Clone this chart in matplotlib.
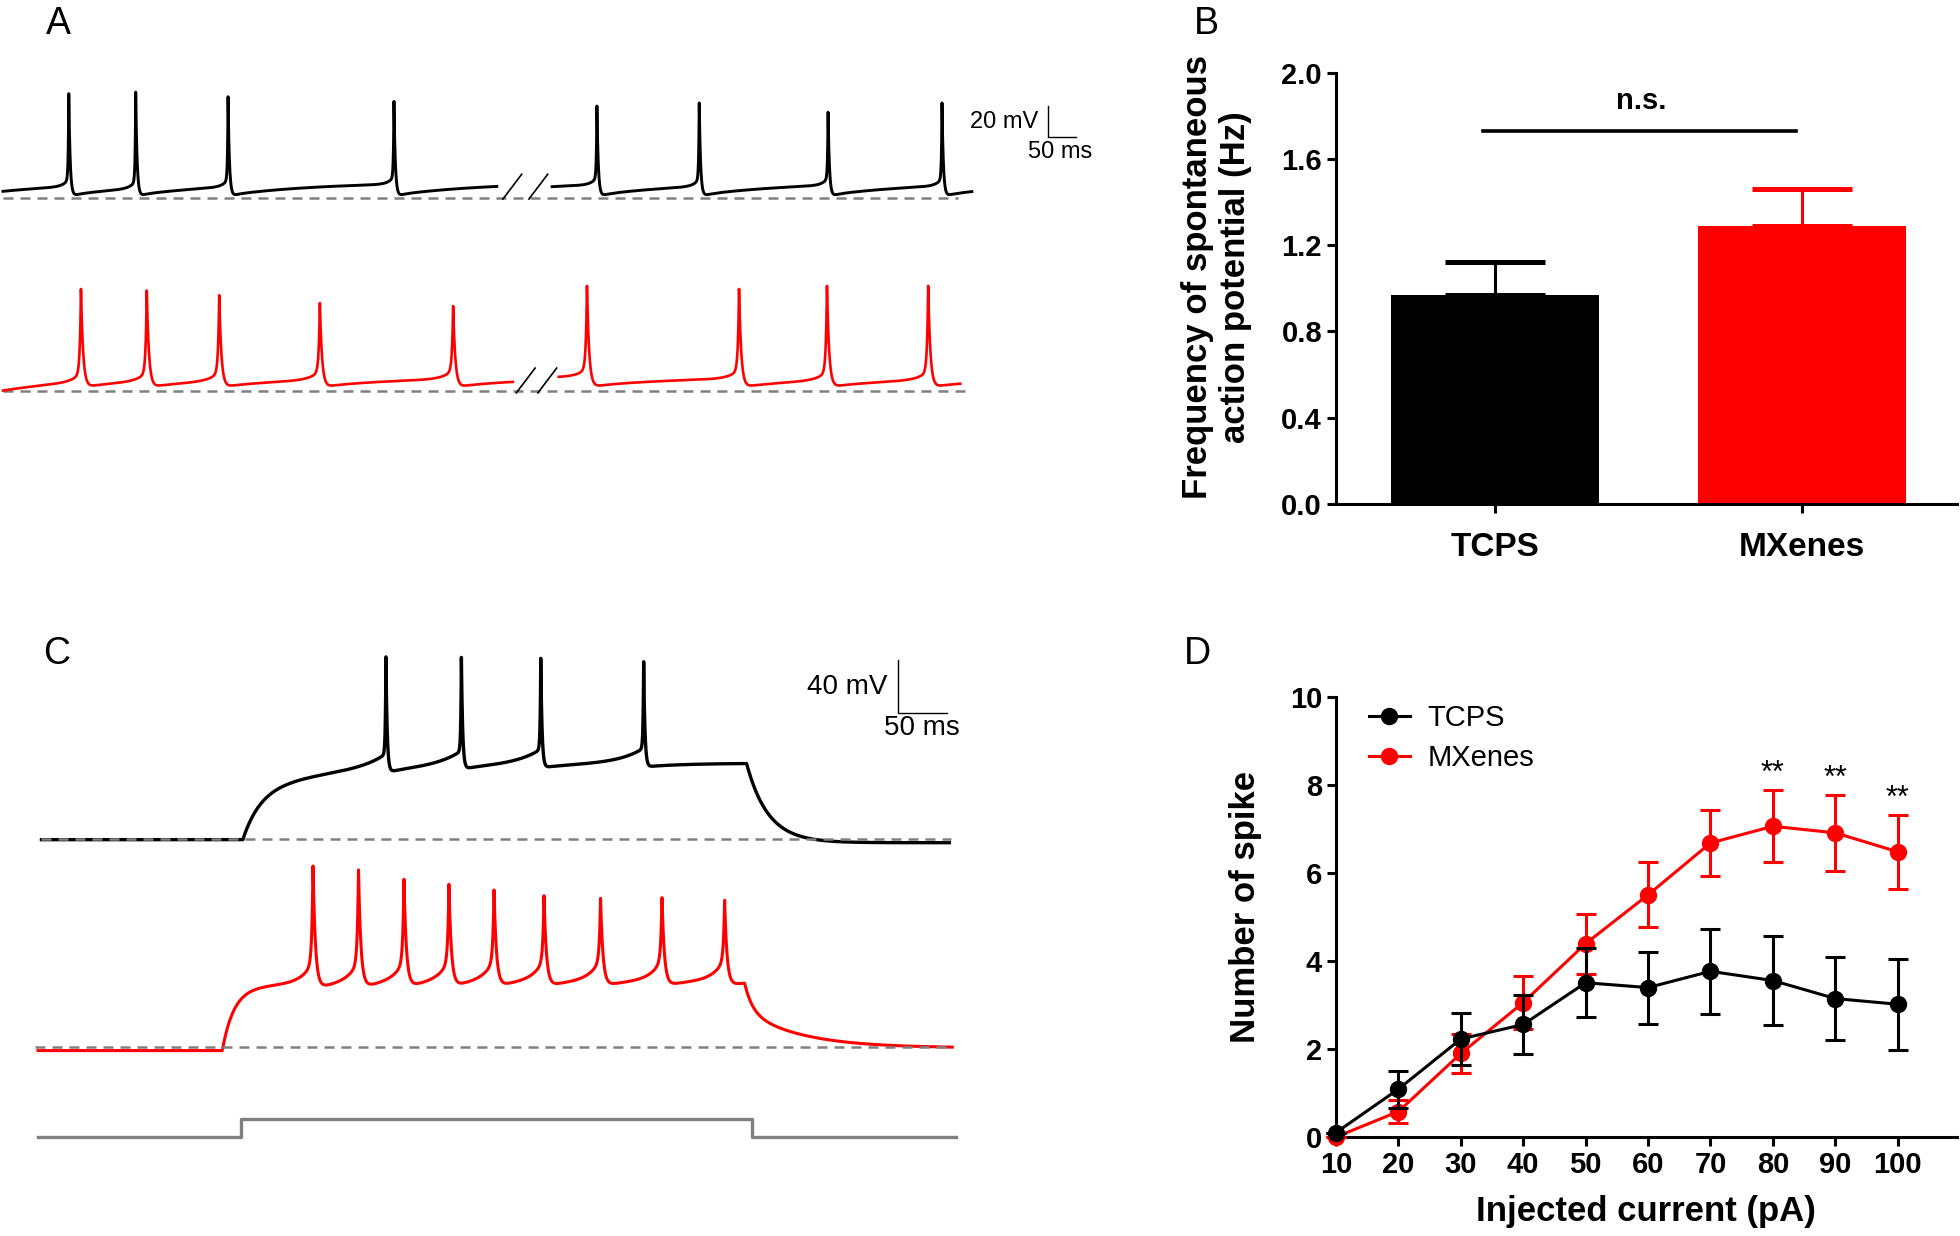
import numpy as np
import matplotlib.pyplot as plt
from matplotlib.lines import Line2D

plt.rcParams['font.family'] = ['Liberation Sans', 'DejaVu Sans']

W, H = 1960, 1236
BLACK, RED, GREY = '#000000', '#ff0000', '#808080'

# ---- panel A: spontaneous firing (ms, mV above the dashed baseline)
A_tcps_segments = [(0, 893), (993, 1752)]
A_tcps_start = [4, 7]
A_tcps_spikes = [119, 240, 407, 707, 1074, 1259, 1492, 1698]
A_tcps_peaks = [67, 68, 65, 62, 59, 61, 55, 61]
A_mx_segments = [(0, 922), (1005, 1731)]
A_mx_start = [0.5, 9]
A_mx_spikes = [141, 260, 391, 573, 814, 1056, 1331, 1490, 1673]
A_mx_peaks = [66, 65, 62, 57, 55, 68, 66, 68, 68]

# ---- panel B: spontaneous AP frequency
groups = ['TCPS', 'MXenes']
freq_mean = [0.97, 1.29]
freq_sem = [0.15, 0.17]

# ---- panel C: firing evoked by a current step (ms, mV)
C_tcps_window = (1.5, 928)
C_tcps_step = (207, 721)
C_tcps_spikes = [353, 430, 511, 616]
C_tcps_peaks = [138, 137.6, 136.9, 134.3]
C_mx_window = (-2, 931)
C_mx_step = (186, 719)
C_mx_spikes = [278.6, 325, 371.4, 417.3, 463.3, 514.3, 572, 634.7, 698.6]
C_mx_peaks = [136.9, 133.9, 126.8, 123.0, 118.7, 114.4, 112.4, 112.9, 110.9]
cmd_times = [-2, 205.6, 727, 935]

# ---- panel D: spikes vs injected current
current = [10, 20, 30, 40, 50, 60, 70, 80, 90, 100]
tcps_mean = [0.10, 1.09, 2.23, 2.56, 3.51, 3.40, 3.77, 3.56, 3.15, 3.02]
tcps_sem = [0.0, 0.42, 0.59, 0.67, 0.78, 0.82, 0.97, 1.02, 0.94, 1.03]
mx_mean = [0.0, 0.58, 1.90, 3.06, 4.40, 5.51, 6.69, 7.07, 6.92, 6.49]
mx_sem = [0.0, 0.26, 0.44, 0.61, 0.68, 0.74, 0.75, 0.82, 0.86, 0.84]
sig_currents = [80, 90, 100]


def flat_env(level):
    return lambda t: np.full_like(t, level)


def step_env(rest, on, off, a1, tau1, a2, tau2, end, w_fast, tau_off1, tau_off2):
    def f(t):
        d_on = np.clip(t - on, 0, None)
        rise = rest + a1 * (1 - np.exp(-d_on / tau1)) + a2 * (1 - np.exp(-d_on / tau2))
        v_off = rest + a1 * (1 - np.exp(-(off - on) / tau1)) + a2 * (1 - np.exp(-(off - on) / tau2))
        d_off = np.clip(t - off, 0, None)
        decay = end + (v_off - end) * (w_fast * np.exp(-d_off / tau_off1)
                                       + (1 - w_fast) * np.exp(-d_off / tau_off2))
        return np.where(t >= off, decay, rise)
    return f


def build_trace(t0, t1, spikes, peaks, env, v0, ahp_fast, tau_fast, ahp_slow, tau_slow,
                bump, tau_pre, tau_r, tau_d):
    t = np.arange(t0, t1, 0.1)
    e = env(t)
    s_in = [s for s in spikes if t0 < s < t1]
    p_in = [p for s, p in zip(spikes, peaks) if t0 < s < t1]
    starts = [t0] + s_in
    ends = s_in + [np.inf]
    v = e.copy()
    for k, (a, b) in enumerate(zip(starts, ends)):
        m = (t >= a) & (t < b)
        dt = t[m] - a
        if k == 0:
            v[m] -= (e[0] - v0) * np.exp(-dt / tau_slow)
        else:
            v[m] -= ahp_fast * np.exp(-dt / tau_fast) + ahp_slow * np.exp(-dt / tau_slow)
        if np.isfinite(b):
            v[m] += bump * np.exp(-(b - t[m]) / tau_pre)
    out = v.copy()
    for s, p in zip(s_in, p_in):
        i = np.searchsorted(t, s)
        left, right = v[i - 1], v[i]
        before = t < s
        out[before] += (p - left) * np.exp((t[before] - s) / tau_r)
        out[~before] += (p - right) * np.exp(-(t[~before] - s) / tau_d)
    return t, out


def px_axes(x0, y0, x1, y1):
    return fig.add_axes([x0 / W, 1 - y1 / H, (x1 - x0) / W, (y1 - y0) / H])


def ftext(x, y, s, **kw):
    fig.text(x / W, 1 - y / H, s, **kw)


fig = plt.figure(figsize=(W / 100, H / 100), dpi=100)

# ================= A =================
axA = px_axes(0, 60, 1100, 420)
axA.set_xlim(-5.4, 1983.7)
axA.set_ylim(-143.5, 88.7)
axA.axis('off')
mx_off_A = -125
dash = dict(color=GREY, lw=1.8, dashes=(4, 2.8))

axA.plot([0, 1727], [0, 0], **dash, zorder=1)
axA.plot([0, 1743], [mx_off_A, mx_off_A], **dash, zorder=1)

for (a, b), v0 in zip(A_tcps_segments, A_tcps_start):
    t, v = build_trace(a, b, A_tcps_spikes, A_tcps_peaks, flat_env(10), v0,
                       3, 8, 8.5, 170, 5, 10, 1.0, 2.5)
    axA.plot(t, v, color=BLACK, lw=2.1, zorder=2)
for (a, b), v0 in zip(A_mx_segments, A_mx_start):
    t, v = build_trace(a, b, A_mx_spikes, A_mx_peaks, flat_env(9), v0,
                       3, 10, 6, 150, 6, 18, 2.0, 4.0)
    axA.plot(t, v + mx_off_A, color=RED, lw=1.9, zorder=2)

# break marks between the two segments of each trace
for segs, off in [(A_tcps_segments, 0), (A_mx_segments, mx_off_A)]:
    gap0, gap1 = segs[0][1], segs[1][0]
    for frac in (0.28, 0.75):
        xc = gap0 + frac * (gap1 - gap0)
        axA.plot([xc - 17, xc + 17], [off - 1, off + 15], color=BLACK, lw=1.2)

# scale bar A
axA.plot([1890, 1890, 1940], [59, 39, 39], color=BLACK, lw=1.0)
axA.text(1872, 48.7, '20 mV', fontsize=17, ha='right', va='center')
axA.text(1912, 29.4, '50 ms', fontsize=17, ha='center', va='center')

# ================= C =================
axC = px_axes(0, 640, 1000, 1160)
axC.set_xlim(-40.8, 979.6)
axC.set_ylim(-243.2, 150.8)
axC.axis('off')
mx_off_C = -157.3

axC.plot([1.5, 930], [0, 0], **dash, zorder=3)
axC.plot([-5, 930], [mx_off_C, mx_off_C], **dash, zorder=3)

env_tcps = step_env(-0.5, C_tcps_step[0], C_tcps_step[1], 37, 18, 21, 100, -2.8, 1.0, 22, 22)
t, v = build_trace(C_tcps_window[0], C_tcps_window[1], C_tcps_spikes, C_tcps_peaks, env_tcps, -0.5,
                   2, 3, 2.5, 40, 12, 25, 0.6, 1.3)
axC.plot(t, v, color=BLACK, lw=2.4, zorder=2)

env_mx = step_env(-3, C_mx_step[0], C_mx_step[1], 48, 12, 5, 150, -1, 0.42, 8, 55)
t, v = build_trace(C_mx_window[0], C_mx_window[1], C_mx_spikes, C_mx_peaks, env_mx, -3,
                   5, 3, 4, 25, 17, 12, 1.2, 2.5)
axC.plot(t, v + mx_off_C, color=RED, lw=2.2, zorder=2)

cmd_low, cmd_high = -225.5, -212.1
axC.plot(cmd_times, [cmd_low, cmd_high, cmd_low, cmd_low], drawstyle='steps-post',
         color=GREY, lw=2.4)

# scale bar C
axC.plot([875.5, 875.5, 925.5], [135.7, 95.7, 95.7], color=BLACK, lw=1.0)
axC.text(865, 115, '40 mV', fontsize=20, ha='right', va='center')
axC.text(900, 84, '50 ms', fontsize=20, ha='center', va='center')


def style_axes(ax):
    for side in ('top', 'right'):
        ax.spines[side].set_visible(False)
    for side in ('left', 'bottom'):
        ax.spines[side].set_linewidth(2.2)
    ax.tick_params(width=2.2, length=6.5, labelsize=21, pad=3.5)
    for lab in ax.get_xticklabels() + ax.get_yticklabels():
        lab.set_fontweight('bold')


# ================= B =================
axB = px_axes(1336, 72.5, 1957, 504)
xpos = np.arange(len(groups))
colors = [BLACK, RED]
for x, m, s, c in zip(xpos, freq_mean, freq_sem, colors):
    axB.errorbar(x, m, yerr=[[0], [s]], fmt='none', ecolor=c, elinewidth=2.2,
                 capsize=36, capthick=3.6, zorder=1)
axB.bar(xpos, freq_mean, width=0.675, color=colors, zorder=2)
axB.set_xlim(-0.518, 1.505)
axB.set_ylim(0, 2.0)
axB.set_yticks([0, 0.4, 0.8, 1.2, 1.6, 2.0])
axB.set_yticklabels(['0.0', '0.4', '0.8', '1.2', '1.6', '2.0'])
axB.set_xticks(xpos)
axB.set_xticklabels(groups)
style_axes(axB)
axB.tick_params(axis='x', labelsize=24, pad=14)
for lab in axB.get_xticklabels():
    lab.set_fontweight('bold')

sig_y = 1.73
axB.plot([xpos[0] - 0.04, xpos[1] - 0.02], [sig_y, sig_y], color=BLACK, lw=2.6)
axB.text(0.475, sig_y + 0.14, 'n.s.', fontsize=21, fontweight='bold', ha='center', va='center')

ftext(1197, 277, 'Frequency of spontaneous', fontsize=25, fontweight='bold',
      rotation=90, ha='center', va='center')
ftext(1235, 277, 'action potential (Hz)', fontsize=25, fontweight='bold',
      rotation=90, ha='center', va='center')

# ================= D =================
axD = px_axes(1336, 697.5, 1957, 1137)
axD.errorbar(current, mx_mean, yerr=mx_sem, fmt='-o', color=RED, lw=2.2, ms=11.5,
             elinewidth=2.2, capsize=7, capthick=2.2, clip_on=False, zorder=3)
axD.errorbar(current, tcps_mean, yerr=tcps_sem, fmt='-o', color=BLACK, lw=2.2, ms=11.5,
             elinewidth=2.2, capsize=7, capthick=2.2, clip_on=False, zorder=4)
axD.set_xlim(10, 109.5)
axD.set_ylim(0, 10)
axD.set_xticks(current)
axD.set_yticks([0, 2, 4, 6, 8, 10])
style_axes(axD)

for c in sig_currents:
    i = current.index(c)
    axD.text(c, mx_mean[i] + mx_sem[i] + 0.02, '**', fontsize=22, ha='center', va='bottom')

handles = [Line2D([], [], color=BLACK, lw=2.2, marker='o', ms=11.5),
           Line2D([], [], color=RED, lw=2.2, marker='o', ms=11.5)]
axD.legend(handles, groups, loc='upper left', bbox_to_anchor=(0.053, 0.985), frameon=False,
           fontsize=21, handlelength=1.4, handletextpad=0.6, labelspacing=0.4,
           borderpad=0, borderaxespad=0)

ftext(1246, 907, 'Number of spike', fontsize=25, fontweight='bold',
      rotation=90, ha='center', va='center')
ftext(1646, 1212, 'Injected current (pA)', fontsize=25, fontweight='bold',
      ha='center', va='center')

# ================= panel letters =================
for letter, (x, y) in zip('ABCD', [(58, 24), (1206, 24), (57, 654), (1197, 654)]):
    ftext(x, y, letter, fontsize=27, ha='center', va='center')

fig.savefig('out.png', dpi=100)
